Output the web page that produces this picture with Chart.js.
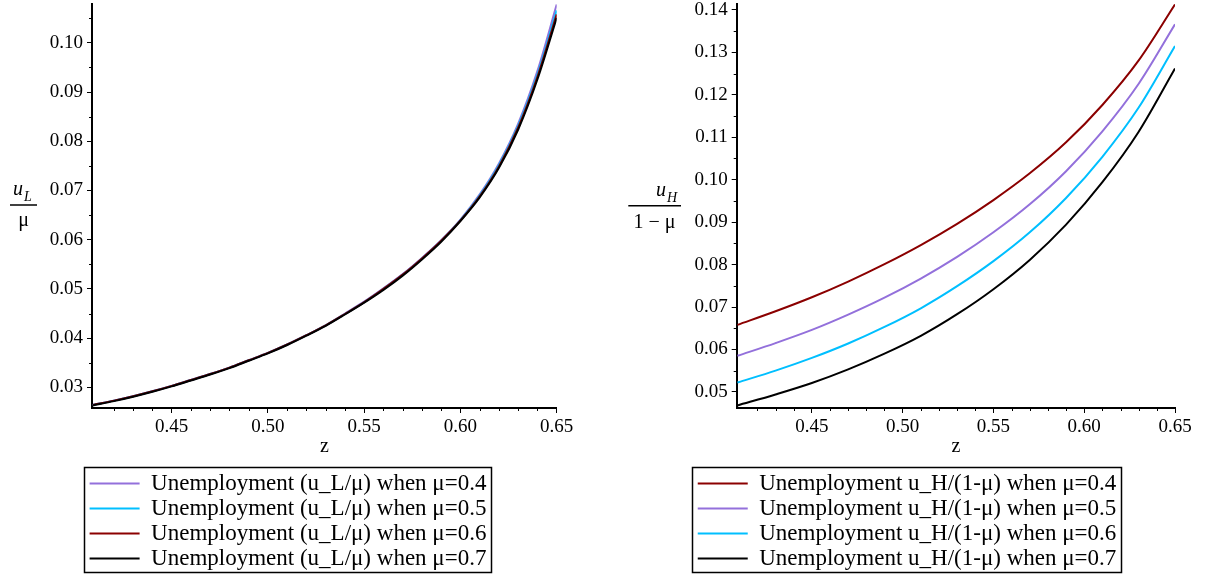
<!DOCTYPE html>
<html>
<head>
<meta charset="utf-8">
<script src="https://cdn.jsdelivr.net/npm/chart.js@4.4.1/dist/chart.umd.min.js"></script>
<style>
  html, body { margin: 0; padding: 0; background: #fff; }
  #wrapL { position: absolute; left: 0; top: 0; width: 576px; height: 576px; }
  #wrapR { position: absolute; left: 602px; top: 0; width: 610px; height: 576px; }
</style>
</head>
<body>
<div id="wrapL"><canvas id="chartL" width="576" height="576"></canvas></div>
<div id="wrapR"><canvas id="chartR" width="610" height="576"></canvas></div>
<script>
// z grid, left panel (u_L / mu)
const zLeft = [0.409, 0.42, 0.43, 0.44, 0.45, 0.46, 0.47, 0.48, 0.49, 0.50, 0.51, 0.52, 0.53,
               0.54, 0.55, 0.56, 0.57, 0.58, 0.59, 0.60, 0.61, 0.62, 0.63, 0.64, 0.65];
const uL04 = [0.0264, 0.0273, 0.0282, 0.0292, 0.0303, 0.0315, 0.0327, 0.0340, 0.0355, 0.0370, 0.0387, 0.0406, 0.0426,
              0.0450, 0.0474, 0.0501, 0.0530, 0.0563, 0.0599, 0.0641, 0.0692, 0.0755, 0.0836, 0.0943, 0.1078];
const uL05 = [0.0264, 0.0273, 0.0282, 0.0292, 0.0303, 0.0315, 0.0327, 0.0340, 0.0355, 0.0370, 0.0387, 0.0406, 0.0426,
              0.0449, 0.0473, 0.0500, 0.0529, 0.0562, 0.0598, 0.0640, 0.0690, 0.0752, 0.0832, 0.0936, 0.1066];
const uL06 = [0.0264, 0.0273, 0.0282, 0.0292, 0.0303, 0.0315, 0.0327, 0.0340, 0.0355, 0.0370, 0.0387, 0.0406, 0.0426,
              0.0449, 0.0473, 0.0500, 0.0529, 0.0562, 0.0598, 0.0639, 0.0688, 0.0749, 0.0828, 0.0931, 0.1058];
const uL07 = [0.0263, 0.0272, 0.0281, 0.0291, 0.0302, 0.0314, 0.0326, 0.0339, 0.0354, 0.0369, 0.0386, 0.0405, 0.0425,
              0.0448, 0.0472, 0.0498, 0.0527, 0.0560, 0.0596, 0.0638, 0.0686, 0.0746, 0.0824, 0.0926, 0.1051];

// z grid, right panel (u_H / (1 - mu))
const zRight = [0.409, 0.43, 0.45, 0.47, 0.49, 0.51, 0.53, 0.55, 0.57, 0.59, 0.61, 0.63, 0.65];
const uH04 = [0.0658, 0.0690, 0.0723, 0.0760, 0.0801, 0.0846, 0.0896, 0.0952, 0.1015, 0.1088, 0.1176, 0.1281, 0.1413];
const uH05 = [0.0585, 0.0615, 0.0646, 0.0682, 0.0722, 0.0767, 0.0818, 0.0876, 0.0942, 0.1020, 0.1114, 0.1226, 0.1366];
const uH06 = [0.0522, 0.0550, 0.0580, 0.0614, 0.0653, 0.0697, 0.0749, 0.0808, 0.0876, 0.0957, 0.1054, 0.1170, 0.1315];
const uH07 = [0.0468, 0.0494, 0.0521, 0.0553, 0.0590, 0.0632, 0.0683, 0.0742, 0.0811, 0.0894, 0.0994, 0.1113, 0.1262];

// ticks
const xTicks = [0.45, 0.50, 0.55, 0.60, 0.65];
const xMinor = [0.42, 0.43, 0.44, 0.46, 0.47, 0.48, 0.49, 0.51, 0.52, 0.53, 0.54,
                0.56, 0.57, 0.58, 0.59, 0.61, 0.62, 0.63, 0.64];
const yTicksL = [0.03, 0.04, 0.05, 0.06, 0.07, 0.08, 0.09, 0.10];
const yMinorL = [0.035, 0.045, 0.055, 0.065, 0.075, 0.085, 0.095, 0.105];
const yTicksR = [0.05, 0.06, 0.07, 0.08, 0.09, 0.10, 0.11, 0.12, 0.13, 0.14];
const yMinorR = [0.055, 0.065, 0.075, 0.085, 0.095, 0.105, 0.115, 0.125, 0.135];

const muLabels = ['0.4', '0.5', '0.6', '0.7'];

const PURPLE = '#9370DB', CYAN = '#00BFFF', RED = '#8B0000', BLACK = '#000000';
const SERIF = '"Liberation Serif", "Times New Roman", serif';

// minor ticks, fraction axis title, legend frame
const decor = {
  id: 'decor',
  afterDraw(chart, args, o) {
    const ctx = chart.ctx;
    const xs = chart.scales.x, ys = chart.scales.y;
    ctx.save();
    ctx.strokeStyle = '#000';
    ctx.lineWidth = 1;
    ctx.beginPath();
    o.xMinor.forEach(v => {
      const px = Math.round(xs.getPixelForValue(v)) + 0.5;
      ctx.moveTo(px, xs.top);
      ctx.lineTo(px, xs.top + 3);
    });
    o.yMinor.forEach(v => {
      const py = Math.round(ys.getPixelForValue(v)) + 0.5;
      ctx.moveTo(ys.right - 3, py);
      ctx.lineTo(ys.right, py);
    });
    ctx.stroke();

    const f = o.frac;
    ctx.fillStyle = '#000';
    ctx.textBaseline = 'alphabetic';
    ctx.textAlign = 'left';
    ctx.font = 'italic 20px ' + SERIF;
    ctx.fillText('u', f.numX, f.numBase);
    const uw = ctx.measureText('u').width;
    ctx.font = 'italic 14px ' + SERIF;
    ctx.fillText(f.sub, f.numX + uw + 1, f.subBase);
    ctx.lineWidth = 1.5;
    ctx.beginPath();
    ctx.moveTo(f.x0, f.lineY);
    ctx.lineTo(f.x1, f.lineY);
    ctx.stroke();
    ctx.font = '20px ' + SERIF;
    ctx.textAlign = 'center';
    ctx.fillText(f.den, f.denX, f.denBase);

    const hb = chart.legend.legendHitBoxes;
    const l = Math.min(...hb.map(b => b.left)) - 6;
    const r = Math.max(...hb.map(b => b.left + b.width)) + 4;
    const t = hb[0].top - 5;
    const last = hb[hb.length - 1];
    const b = last.top + last.height + 2;
    ctx.lineWidth = 1.5;
    ctx.strokeRect(Math.round(l) + 0.5, Math.round(t) + 0.5, Math.round(r - l), Math.round(b - t));
    ctx.restore();
  }
};

function series(label, zs, vals, color, order) {
  return {
    label: label,
    data: zs.map((z, i) => ({ x: z, y: vals[i] })),
    borderColor: color,
    backgroundColor: color,
    borderWidth: 2,
    pointRadius: 0,
    cubicInterpolationMode: 'monotone',
    order: order
  };
}

function makeScales(yMin, yMax, yTicks, yWidth, rightPad) {
  return {
    x: {
      type: 'linear', min: 0.4086, max: 0.65,
      afterBuildTicks: s => { s.ticks = xTicks.map(v => ({ value: v })); },
      afterFit: s => { s.height = 62; s.paddingLeft = 0; s.paddingRight = rightPad; },
      ticks: { callback: v => v.toFixed(2), font: { family: SERIF, size: 19 }, color: '#000', padding: 3, maxRotation: 0, autoSkip: false },
      grid: { drawOnChartArea: false, drawTicks: true, tickLength: 5, color: '#000' },
      border: { color: '#000', width: 2 },
      title: { display: true, text: 'z', font: { family: SERIF, size: 20 }, color: '#000', padding: { top: 0, bottom: 11 } }
    },
    y: {
      type: 'linear', min: yMin, max: yMax,
      afterBuildTicks: s => { s.ticks = yTicks.map(v => ({ value: v })); },
      afterFit: s => { s.width = yWidth; s.paddingTop = 0; s.paddingBottom = 0; },
      ticks: { callback: v => v.toFixed(2), font: { family: SERIF, size: 19 }, color: '#000', padding: 4, autoSkip: false },
      grid: { drawOnChartArea: false, drawTicks: true, tickLength: 5, color: '#000' },
      border: { color: '#000', width: 2 }
    }
  };
}

function makeOptions(scales, decorOpts) {
  return {
    responsive: false,
    animation: false,
    layout: { padding: { top: 4, left: 0, right: 0, bottom: -4 } },
    scales: scales,
    plugins: {
      tooltip: { enabled: false },
      legend: {
        position: 'bottom',
        labels: {
          color: '#000',
          font: { family: SERIF, size: 23 },
          usePointStyle: true,
          pointStyle: 'line',
          pointStyleWidth: 50,
          padding: 2,
          sort: (a, b) => a.datasetIndex - b.datasetIndex
        }
      },
      decor: decorOpts
    }
  };
}

new Chart(document.getElementById('chartL'), {
  type: 'line',
  data: {
    datasets: [
      series('Unemployment (u_L/μ) when μ=' + muLabels[0], zLeft, uL04, PURPLE, 3),
      series('Unemployment (u_L/μ) when μ=' + muLabels[1], zLeft, uL05, CYAN, 2),
      series('Unemployment (u_L/μ) when μ=' + muLabels[2], zLeft, uL06, RED, 1),
      series('Unemployment (u_L/μ) when μ=' + muLabels[3], zLeft, uL07, BLACK, 0)
    ]
  },
  options: makeOptions(makeScales(0.0258, 0.1079, yTicksL, 92, 19.3), {
    xMinor: xMinor, yMinor: yMinorL,
    frac: { sub: 'L', numX: 13, numBase: 195, subBase: 201, x0: 10, x1: 37, lineY: 205, den: 'μ', denX: 23.5, denBase: 226 }
  }),
  plugins: [decor]
});

new Chart(document.getElementById('chartR'), {
  type: 'line',
  data: {
    datasets: [
      series('Unemployment u_H/(1-μ) when μ=' + muLabels[0], zRight, uH04, RED, 3),
      series('Unemployment u_H/(1-μ) when μ=' + muLabels[1], zRight, uH05, PURPLE, 2),
      series('Unemployment u_H/(1-μ) when μ=' + muLabels[2], zRight, uH06, CYAN, 1),
      series('Unemployment u_H/(1-μ) when μ=' + muLabels[3], zRight, uH07, BLACK, 0)
    ]
  },
  options: makeOptions(makeScales(0.0462, 0.1414, yTicksR, 134.7, 37), {
    xMinor: xMinor, yMinor: yMinorR,
    frac: { sub: 'H', numX: 54, numBase: 196, subBase: 202, x0: 26.3, x1: 79, lineY: 205.7, den: '1 − μ', denX: 52.5, denBase: 228 }
  }),
  plugins: [decor]
});
</script>
</body>
</html>
